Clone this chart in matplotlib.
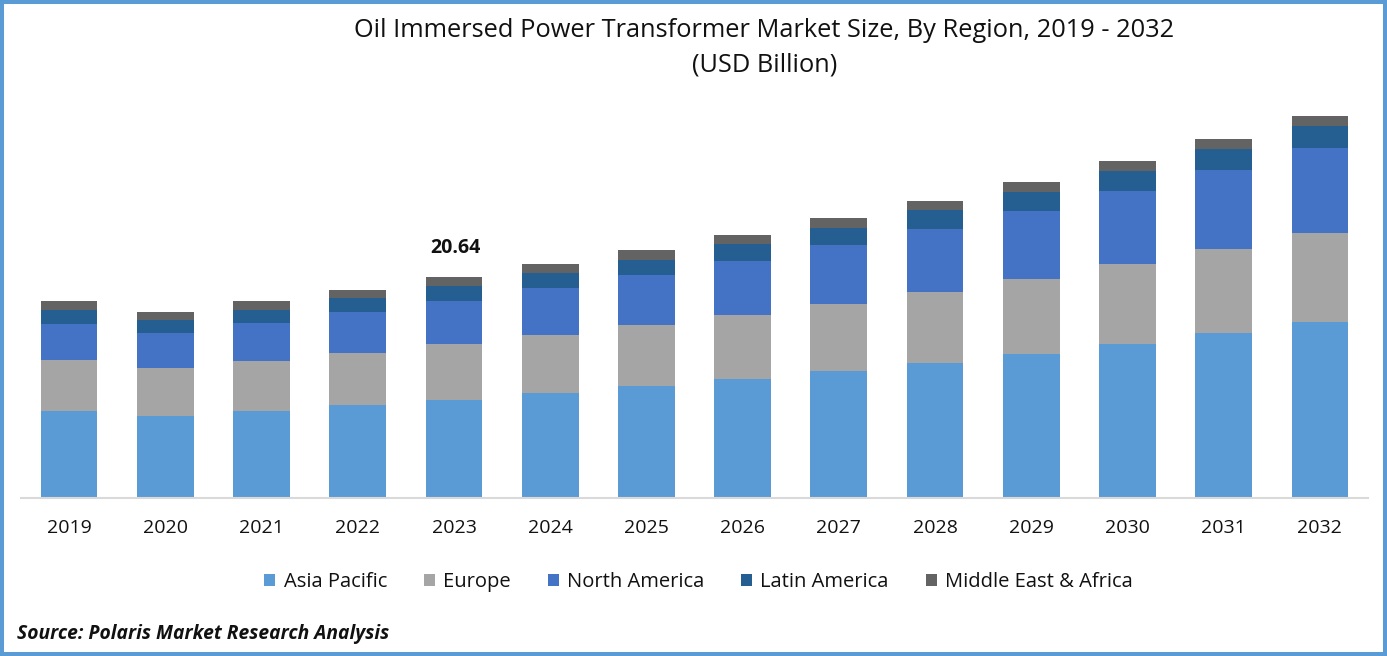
import matplotlib
matplotlib.use("Agg")
import matplotlib.pyplot as plt
from matplotlib.patches import Rectangle
import numpy as np

plt.rcParams["font.family"] = ["Open Sans", "DejaVu Sans"]

# -----------------------------
# Data (USD billion)
# -----------------------------
YEARS = [str(y) for y in range(2019, 2033)]
ASIA_PACIFIC = [8.07, 7.60, 8.07, 8.63, 9.10, 9.76, 10.41, 11.07, 11.82, 12.57, 13.41, 14.35, 15.38, 16.42]
EUROPE = [4.78, 4.50, 4.69, 4.88, 5.25, 5.44, 5.72, 6.00, 6.29, 6.66, 7.04, 7.50, 7.88, 8.35]
NORTH_AMERICA = [3.38, 3.28, 3.56, 3.85, 4.03, 4.41, 4.69, 5.07, 5.53, 5.91, 6.38, 6.85, 7.41, 7.97]
LATIN_AMERICA = [1.31, 1.22, 1.22, 1.31, 1.41, 1.41, 1.41, 1.59, 1.59, 1.78, 1.78, 1.88, 1.97, 2.06]
MEA = [0.84, 0.75, 0.84, 0.75, 0.85, 0.84, 0.94, 0.84, 0.94, 0.84, 0.94, 0.94, 0.94, 0.94]

SERIES = [
    ("Asia Pacific", ASIA_PACIFIC, "#5B9BD5"),
    ("Europe", EUROPE, "#A5A5A5"),
    ("North America", NORTH_AMERICA, "#4472C4"),
    ("Latin America", LATIN_AMERICA, "#255E91"),
    ("Middle East & Africa", MEA, "#636363"),
]

W, H = 1387, 656
TEXT = "#111111"
BASE_Y = 497.0

fig = plt.figure(figsize=(W / 100, H / 100), dpi=100, facecolor="white")
ax = fig.add_axes([21 / W, 1 - BASE_Y / H, (1368 - 21) / W, (BASE_Y - 90) / H])

# moving the spine resets the tick styling, so do it first
for side in ["top", "left", "right"]:
    ax.spines[side].set_visible(False)
ax.spines["bottom"].set_position(("outward", 0.7))
ax.spines["bottom"].set_color("#D9D9D9")
ax.spines["bottom"].set_linewidth(1.5)

x = np.arange(len(YEARS))
bottom = np.zeros(len(YEARS))
for name, values, color in SERIES:
    ax.bar(x, values, width=0.59, bottom=bottom, color=color, label=name, linewidth=0)
    bottom += np.array(values)

ax.set_xlim(-0.5, len(YEARS) - 0.5)
ax.set_ylim(0, (BASE_Y - 90) / 10.66)
ax.set_xticks(x)
ax.set_xticklabels(YEARS, fontsize=14, color=TEXT)
ax.tick_params(axis="x", length=0, pad=15)
ax.set_yticks([])

# callout over the base year
ax.text(4.01, bottom[4] + 2.7, "20.64", ha="center", va="center",
        fontsize=14, fontweight="bold", color=TEXT)

fig.text(764 / W, 1 - 30.5 / H, "Oil Immersed Power Transformer Market Size, By Region, 2019 - 2032",
         ha="center", va="center", fontsize=18.25, color=TEXT)
fig.text(764.5 / W, 1 - 64.5 / H, "(USD Billion)", ha="center", va="center", fontsize=18.25, color=TEXT)

ax.legend(loc="center", bbox_to_anchor=(698.5 / W, 1 - 582 / H), bbox_transform=fig.transFigure,
          ncol=5, frameon=False, fontsize=14.5, handlelength=0.55, handleheight=0.55,
          handletextpad=0.4, columnspacing=1.84, labelcolor=TEXT)

fig.text(17 / W, 1 - 633.5 / H, "Source: Polaris Market Research Analysis", ha="left", va="center",
         fontsize=13.9, fontweight="bold", fontstyle="italic", color=TEXT)

# outer frame
fig.add_artist(Rectangle((2 / W, 2 / H), (W - 4) / W, (H - 4) / H, transform=fig.transFigure,
                         fill=False, edgecolor="#5B9BD5", linewidth=2.9))

fig.savefig("out.png", dpi=100)
